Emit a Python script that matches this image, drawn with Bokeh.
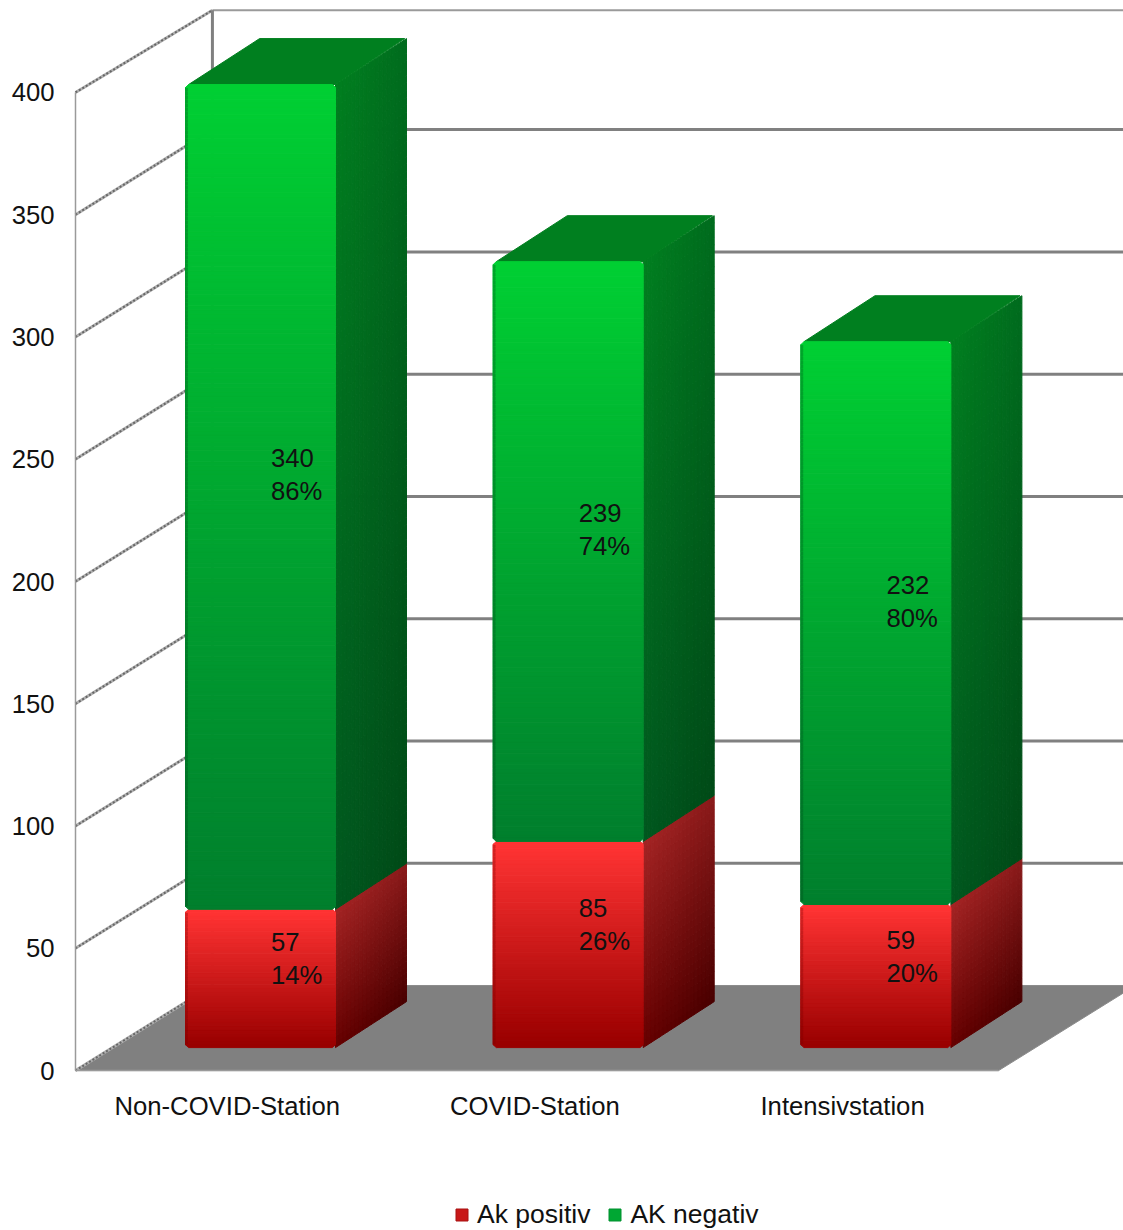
from bokeh.core.properties import value
from bokeh.embed import file_html
from bokeh.layouts import column
from bokeh.models import ColumnDataSource, FixedTicker, Legend, LegendItem, Range1d
from bokeh.plotting import figure
from bokeh.resources import INLINE

# Station categories and antibody counts
stations = ["Non-COVID-Station", "COVID-Station", "Intensivstation"]
ak_positiv = [57, 85, 59]
ak_negativ = [340, 239, 232]
pct_positiv = ["14%", "26%", "20%"]
pct_negativ = ["86%", "74%", "80%"]
value_ticks = [0, 50, 100, 150, 200, 250, 300, 350, 400]
series_names = ["Ak positiv", "AK negativ"]

FONT = "Liberation Sans"
FONT_SIZE = "25.7px"
TEXT = "#111111"
GRID = "#808080"

# Projection of the 3D box: x is in category units, y in value units
WALL_DX, WALL_DY = 0.445, 34.8
WALL_TOP_TRIM = 1.2
BAR_DX, BAR_DY = 0.2308, 18.8
BAR_LEFT, BAR_WIDTH = 0.3575, 0.4875
BAR_BASE, BAR_SCALE = 9.4, 0.992
CHAMFER_X, CHAMFER_Y = 0.010, 1.2
CATEGORY_SHIFT = -0.007

p = figure(
    frame_width=1058, frame_height=1085, output_backend="svg", toolbar_location=None,
    x_range=Range1d(-0.0325, 3.406), y_range=Range1d(-6.1, 437.6),
    min_border_left=65, min_border_right=0, min_border_top=0, min_border_bottom=105,
    outline_line_color=None, background_fill_color="white", border_fill_color="white",
)
p.grid.visible = False

p.yaxis.ticker = FixedTicker(ticks=value_ticks)
p.yaxis.axis_line_color = None
p.yaxis.major_tick_line_color = None
p.yaxis.minor_tick_line_color = None
p.yaxis.major_label_standoff = 5
p.yaxis.major_label_text_font = FONT
p.yaxis.major_label_text_font_size = FONT_SIZE
p.yaxis.major_label_text_color = TEXT

category_ticks = [i + 0.5 + CATEGORY_SHIFT for i in range(len(stations))]
p.xaxis.ticker = FixedTicker(ticks=category_ticks)
p.xaxis.major_label_overrides = dict(zip(category_ticks, stations))
p.xaxis.axis_line_color = None
p.xaxis.major_tick_line_color = None
p.xaxis.minor_tick_line_color = None
p.xaxis.major_label_standoff = 0
p.xaxis.major_label_text_font = FONT
p.xaxis.major_label_text_font_size = FONT_SIZE
p.xaxis.major_label_text_color = TEXT


def mix(a, b, t):
    return tuple(a[i] + (b[i] - a[i]) * t for i in range(3))


def css(c):
    return "#%02x%02x%02x" % tuple(int(round(v)) for v in c)


def rgb(h):
    return tuple(int(h[i:i + 2], 16) for i in (1, 3, 5))


def wall_rib(x, y):
    """Rope-like rib on the left wall: a pale line under a dark dashed one."""
    p.line(x, y, line_color="#b0b0b0", line_width=3)
    p.line(x, y, line_color="#666666", line_width=2, line_dash="2 2")


# Floor and walls
floor_right = len(stations)
p.patch([0, floor_right, floor_right + WALL_DX, WALL_DX], [0, 0, WALL_DY, WALL_DY],
        fill_color="#808080", line_color="#8c8c8c", line_width=1)

top = value_ticks[-1]
wall_top = top + WALL_DY - WALL_TOP_TRIM
for v in value_ticks[:-1]:
    if v > 0:
        p.line([WALL_DX, floor_right + WALL_DX], [v + WALL_DY] * 2, line_color=GRID, line_width=3)
    wall_rib([0, WALL_DX], [v, v + WALL_DY])
wall_rib([0, WALL_DX], [top, wall_top])
p.line([WALL_DX, floor_right + WALL_DX], [wall_top] * 2, line_color="#9a9a9a", line_width=2)
p.line([0, 0], [0, top], line_color="#9a9a9a", line_width=1.5)
p.line([WALL_DX, WALL_DX], [WALL_DY, wall_top], line_color=GRID, line_width=3)
p.line([0, floor_right], [0, 0], line_color="#9a9a9a", line_width=1.5)

# Cell lists for the shaded faces
cells = {"xs": [], "ys": [], "color": []}


def add_cell(xs, ys, color):
    cells["xs"].append(xs)
    cells["ys"].append(ys)
    cells["color"].append(css(color))


def front_face(x0, x1, y0, y1, c_top, c_bot, rim_color):
    """Vertical gradient with small chamfers at the corners and a darker left rim."""
    rim = 0.006
    n = max(12, int((y1 - y0) / 1.6))
    step = (y1 - y0 - 2 * CHAMFER_Y) / n
    for j in range(n):
        a = y0 + CHAMFER_Y + step * j
        b = a + step
        color = mix(c_top, c_bot, 1 - (j + 0.5) / n)
        add_cell([x0, x1, x1, x0], [a, a, b, b], color)
        add_cell([x0, x0 + rim, x0 + rim, x0], [a, a, b, b], mix(color, rim_color, 0.3))
    add_cell([x0 + CHAMFER_X, x1 - CHAMFER_X, x1, x0], [y0, y0, y0 + CHAMFER_Y, y0 + CHAMFER_Y], c_bot)
    add_cell([x0, x1, x1 - CHAMFER_X, x0 + CHAMFER_X], [y1 - CHAMFER_Y, y1 - CHAMFER_Y, y1, y1], c_top)


def side_face(x1, y0, y1, tl, tr, bl, br, nu=18):
    """Parallelogram on the right of a bar, shaded from its four corners."""
    nv = max(24, int((y1 - y0) / 3))
    for i in range(nu):
        for j in range(nv):
            u0, u1 = i / nu, (i + 1) / nu
            v0, v1 = j / nv, (j + 1) / nv
            yy0 = y0 + (y1 - y0) * v0
            yy1 = y0 + (y1 - y0) * v1
            xs = [x1 + BAR_DX * u0, x1 + BAR_DX * u1, x1 + BAR_DX * u1, x1 + BAR_DX * u0]
            ys = [yy0 + BAR_DY * u0, yy0 + BAR_DY * u1, yy1 + BAR_DY * u1, yy1 + BAR_DY * u0]
            um, vm = (u0 + u1) / 2, (v0 + v1) / 2
            add_cell(xs, ys, mix(mix(bl, br, um), mix(tl, tr, um), vm))


GREEN_FRONT = (rgb("#00cf33"), rgb("#007f2d"))
RED_FRONT = (rgb("#ff3333"), rgb("#990000"))
GREEN_SIDE = [rgb(h) for h in ("#007f1f", "#006c1e", "#00571f", "#004a17")]
RED_SIDE = [rgb(h) for h in ("#a42424", "#8a1a1a", "#660000", "#480000")]
GREEN_RIM = rgb("#00401a")
RED_RIM = rgb("#700000")

for i, (pos, neg) in enumerate(zip(ak_positiv, ak_negativ)):
    x0 = i + BAR_LEFT
    x1 = x0 + BAR_WIDTH
    y_red = BAR_BASE + pos * BAR_SCALE
    y_top = BAR_BASE + (pos + neg) * BAR_SCALE

    side_face(x1, BAR_BASE, y_red, *RED_SIDE)
    side_face(x1, y_red, y_top, *GREEN_SIDE)
    # top lid of the green segment
    add_cell([x0 + CHAMFER_X, x1, x1 + BAR_DX - CHAMFER_X * 0.6, x0 + BAR_DX + CHAMFER_X],
             [y_top, y_top, y_top + BAR_DY, y_top + BAR_DY],
             rgb("#007f1f"))
    front_face(x0, x1, BAR_BASE, y_red, *RED_FRONT, RED_RIM)
    front_face(x0, x1, y_red, y_top, *GREEN_FRONT, GREEN_RIM)

p.patches("xs", "ys", source=ColumnDataSource(cells), fill_color="color", line_color="color", line_width=1)

# Count and share, centred on each segment's box
label = {"x": [], "y": [], "count": [], "pct": []}
for i, (pos, neg) in enumerate(zip(ak_positiv, ak_negativ)):
    cx = i + BAR_LEFT + (BAR_WIDTH + BAR_DX) / 2
    for lo, n, share, nudge in ((0, pos, pct_positiv[i], 1.6), (pos, neg, pct_negativ[i], 0.6)):
        label["x"].append(cx)
        label["y"].append(BAR_BASE + (lo + n / 2) * BAR_SCALE + BAR_DY / 2 - nudge)
        label["count"].append(str(n))
        label["pct"].append(share)
src = ColumnDataSource(label)
common = dict(x="x", y="y", source=src, text_font=value(FONT), text_font_size=FONT_SIZE, text_color=TEXT,
              text_align="left", text_baseline="middle", x_offset=-25)
p.text(text="count", y_offset=-17, **common)
p.text(text="pct", y_offset=16, **common)

# Legend strip under the chart
q = figure(
    width=1123, height=40, output_backend="svg", toolbar_location=None,
    x_axis_location=None, y_axis_location=None,
    x_range=Range1d(0, 1), y_range=Range1d(0, 1),
    min_border=0, outline_line_color=None, background_fill_color="white", border_fill_color="white",
)
q.grid.visible = False
r_pos = q.quad(left=[5], right=[6], bottom=[5], top=[6], fill_color="#c81818", line_color="#a81010")
r_neg = q.quad(left=[5], right=[6], bottom=[5], top=[6], fill_color="#00a733", line_color="#009030")
legend = Legend(
    items=[LegendItem(label=series_names[0], renderers=[r_pos]), LegendItem(label=series_names[1], renderers=[r_neg])],
    orientation="horizontal", location=(389, 0), border_line_color=None, background_fill_alpha=0,
    label_text_font=FONT, label_text_font_size="26.5px", label_text_color=TEXT,
    glyph_width=15, glyph_height=15, label_standoff=8, spacing=17, padding=0, margin=0,
)
q.add_layout(legend)

open("out.html", "w").write(file_html(column(p, q, spacing=0), INLINE))
